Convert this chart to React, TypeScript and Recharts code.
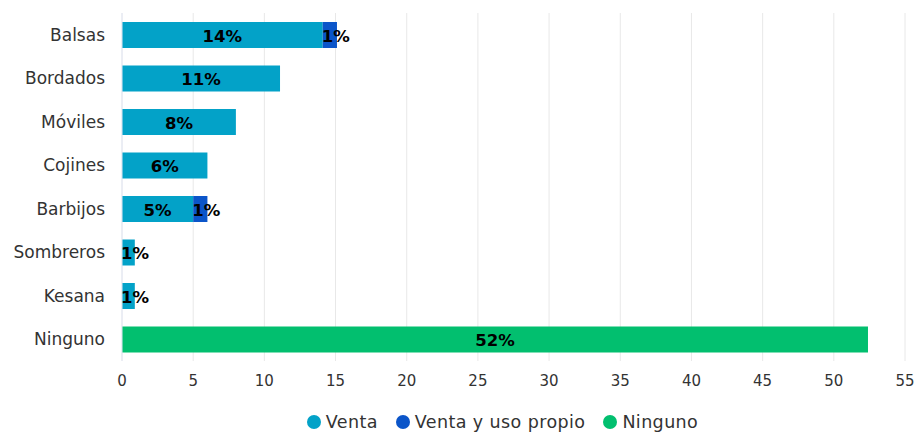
import React from 'react';
import { BarChart, Bar, XAxis, YAxis, CartesianGrid, Legend, LabelList } from 'recharts';

const categories = ['Balsas', 'Bordados', 'Móviles', 'Cojines', 'Barbijos', 'Sombreros', 'Kesana', 'Ninguno'];
const venta = [14.1, 11.1, 8.0, 6.0, 5.0, 0.9, 0.9, null];
const ventaUsoPropio = [1.0, null, null, null, 1.0, null, null, null];
const ninguno = [null, null, null, null, null, null, null, 52.4];
const xTicks = [0, 5, 10, 15, 20, 25, 30, 35, 40, 45, 50, 55];

const seriesNames = ['Venta', 'Venta y uso propio', 'Ninguno'];
const seriesColors = ['#03a2c8', '#0b55c9', '#02bf6f'];

const data = categories.map((name, i) => ({
  name,
  venta: venta[i],
  ventaUsoPropio: ventaUsoPropio[i],
  ninguno: ninguno[i],
}));

const FONT = '"DejaVu Sans", sans-serif';

const renderLabel = (props: any) => {
  const { x, y, width, height, value } = props;
  if (value == null || value === 0) return null;
  const text = `${Math.round(value)}%`;
  const tw = text.length * 13;
  let cx = x + width / 2;
  if (cx - tw / 2 < x) cx = x + tw / 2;
  return (
    <text
      x={cx}
      y={y + height / 2 + 1}
      textAnchor="middle"
      dominantBaseline="central"
      fill="#000"
      fontWeight="bold"
      fontSize={16.5}
      fontFamily={FONT}
    >
      {text}
    </text>
  );
};

const renderLegend = () => (
  <div style={{ display: 'flex', justifyContent: 'center', fontFamily: FONT, fontSize: 17.5, color: '#333', paddingTop: 19, paddingLeft: 118 }}>
    {seriesNames.map((n, i) => (
      <span key={n} style={{ display: 'flex', alignItems: 'center', marginRight: 18 }}>
        <span style={{ width: 14, height: 14, borderRadius: '50%', background: seriesColors[i], marginRight: 5, display: 'inline-block' }} />
        <span style={{ letterSpacing: 0.4 }}>{n}</span>
      </span>
    ))}
  </div>
);

const App: React.FC = () => {
  return (
    <div style={{ position: 'absolute', top: 0, left: 0, width: 916, height: 432, background: '#fff' }}>
      <BarChart
        width={916}
        height={432}
        data={data}
        layout="vertical"
        margin={{ top: 13, right: 11, bottom: 0, left: 0 }}
        barSize={26}
      >
        <CartesianGrid horizontal={false} stroke="#e8e8e8" />
        <XAxis
          type="number"
          domain={[0, 55]}
          ticks={xTicks}
          axisLine={false}
          tickLine={false}
          height={32}
          tick={{ fill: '#333', fontSize: 15, fontFamily: FONT }}
          tickMargin={8}
        />
        <YAxis
          type="category"
          dataKey="name"
          width={122}
          axisLine={{ stroke: '#e3e8f5' }}
          tickLine={false}
          tickMargin={11}
          tick={{ fill: '#333', fontSize: 17, fontFamily: FONT }}
        />
        <Legend verticalAlign="bottom" content={renderLegend} />
        <Bar dataKey="venta" name="Venta" stackId="a" fill={seriesColors[0]} isAnimationActive={false}>
          <LabelList dataKey="venta" content={renderLabel} />
        </Bar>
        <Bar dataKey="ventaUsoPropio" name="Venta y uso propio" stackId="a" fill={seriesColors[1]} isAnimationActive={false}>
          <LabelList dataKey="ventaUsoPropio" content={renderLabel} />
        </Bar>
        <Bar dataKey="ninguno" name="Ninguno" stackId="a" fill={seriesColors[2]} isAnimationActive={false}>
          <LabelList dataKey="ninguno" content={renderLabel} />
        </Bar>
      </BarChart>
    </div>
  );
};

export default App;
